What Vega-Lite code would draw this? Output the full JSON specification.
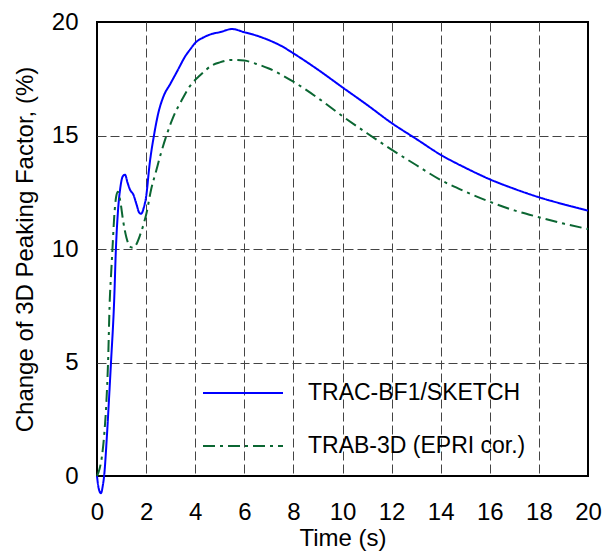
{
  "$schema": "https://vega.github.io/schema/vega-lite/v6.json",
  "width": 491,
  "height": 454,
  "autosize": {"type": "none"},
  "padding": {"left": 97, "top": 22, "right": 17, "bottom": 76},
  "background": "white",
  "config": {
    "view": {"stroke": "black", "strokeWidth": 2},
    "font": "Liberation Sans",
    "axis": {
      "labelFont": "Liberation Sans",
      "titleFont": "Liberation Sans",
      "labelFontSize": 24,
      "titleFontSize": 24,
      "labelColor": "black",
      "titleColor": "black",
      "titleFontWeight": "normal",
      "domain": false,
      "ticks": false,
      "labelFlush": false,
      "gridColor": "#444",
      "gridDash": [9, 4],
      "gridWidth": 1
    },
    "legend": {
      "labelFont": "Liberation Sans",
      "labelFontSize": 23,
      "labelColor": "black",
      "labelLimit": 400
    }
  },
  "data": {
    "values": [
      {"t": 0, "v": 0, "s": "TRAC-BF1/SKETCH"},
      {"t": 0.06, "v": -0.5, "s": "TRAC-BF1/SKETCH"},
      {"t": 0.16, "v": -0.76, "s": "TRAC-BF1/SKETCH"},
      {"t": 0.24, "v": -0.4, "s": "TRAC-BF1/SKETCH"},
      {"t": 0.29, "v": 0, "s": "TRAC-BF1/SKETCH"},
      {"t": 0.4, "v": 1.7, "s": "TRAC-BF1/SKETCH"},
      {"t": 0.5, "v": 3.6, "s": "TRAC-BF1/SKETCH"},
      {"t": 0.57, "v": 5.0, "s": "TRAC-BF1/SKETCH"},
      {"t": 0.7, "v": 7.75, "s": "TRAC-BF1/SKETCH"},
      {"t": 0.77, "v": 10.0, "s": "TRAC-BF1/SKETCH"},
      {"t": 0.85, "v": 11.6, "s": "TRAC-BF1/SKETCH"},
      {"t": 0.95, "v": 12.7, "s": "TRAC-BF1/SKETCH"},
      {"t": 1.05, "v": 13.2, "s": "TRAC-BF1/SKETCH"},
      {"t": 1.14, "v": 13.27, "s": "TRAC-BF1/SKETCH"},
      {"t": 1.25, "v": 12.9, "s": "TRAC-BF1/SKETCH"},
      {"t": 1.35, "v": 12.6, "s": "TRAC-BF1/SKETCH"},
      {"t": 1.48, "v": 12.4, "s": "TRAC-BF1/SKETCH"},
      {"t": 1.6, "v": 12.0, "s": "TRAC-BF1/SKETCH"},
      {"t": 1.72, "v": 11.6, "s": "TRAC-BF1/SKETCH"},
      {"t": 1.8, "v": 11.55, "s": "TRAC-BF1/SKETCH"},
      {"t": 1.9, "v": 11.8, "s": "TRAC-BF1/SKETCH"},
      {"t": 2.0, "v": 12.3, "s": "TRAC-BF1/SKETCH"},
      {"t": 2.15, "v": 13.8, "s": "TRAC-BF1/SKETCH"},
      {"t": 2.32, "v": 15.0, "s": "TRAC-BF1/SKETCH"},
      {"t": 2.5, "v": 16.0, "s": "TRAC-BF1/SKETCH"},
      {"t": 2.7, "v": 16.7, "s": "TRAC-BF1/SKETCH"},
      {"t": 3.0, "v": 17.3, "s": "TRAC-BF1/SKETCH"},
      {"t": 3.3, "v": 17.9, "s": "TRAC-BF1/SKETCH"},
      {"t": 3.6, "v": 18.5, "s": "TRAC-BF1/SKETCH"},
      {"t": 3.8, "v": 18.8, "s": "TRAC-BF1/SKETCH"},
      {"t": 4.0, "v": 19.08, "s": "TRAC-BF1/SKETCH"},
      {"t": 4.3, "v": 19.3, "s": "TRAC-BF1/SKETCH"},
      {"t": 4.7, "v": 19.48, "s": "TRAC-BF1/SKETCH"},
      {"t": 5.0, "v": 19.55, "s": "TRAC-BF1/SKETCH"},
      {"t": 5.5, "v": 19.69, "s": "TRAC-BF1/SKETCH"},
      {"t": 6.0, "v": 19.55, "s": "TRAC-BF1/SKETCH"},
      {"t": 6.5, "v": 19.4, "s": "TRAC-BF1/SKETCH"},
      {"t": 7.0, "v": 19.2, "s": "TRAC-BF1/SKETCH"},
      {"t": 7.5, "v": 18.95, "s": "TRAC-BF1/SKETCH"},
      {"t": 8.0, "v": 18.62, "s": "TRAC-BF1/SKETCH"},
      {"t": 9.0, "v": 17.9, "s": "TRAC-BF1/SKETCH"},
      {"t": 10.0, "v": 17.12, "s": "TRAC-BF1/SKETCH"},
      {"t": 11.0, "v": 16.35, "s": "TRAC-BF1/SKETCH"},
      {"t": 12.0, "v": 15.55, "s": "TRAC-BF1/SKETCH"},
      {"t": 13.0, "v": 14.85, "s": "TRAC-BF1/SKETCH"},
      {"t": 14.0, "v": 14.15, "s": "TRAC-BF1/SKETCH"},
      {"t": 15.0, "v": 13.58, "s": "TRAC-BF1/SKETCH"},
      {"t": 16.0, "v": 13.07, "s": "TRAC-BF1/SKETCH"},
      {"t": 17.0, "v": 12.65, "s": "TRAC-BF1/SKETCH"},
      {"t": 18.0, "v": 12.28, "s": "TRAC-BF1/SKETCH"},
      {"t": 19.0, "v": 11.97, "s": "TRAC-BF1/SKETCH"},
      {"t": 20.0, "v": 11.69, "s": "TRAC-BF1/SKETCH"},
      {"t": 0, "v": 0, "s": "TRAB-3D (EPRI cor.)"},
      {"t": 0.1, "v": 0.3, "s": "TRAB-3D (EPRI cor.)"},
      {"t": 0.2, "v": 0.85, "s": "TRAB-3D (EPRI cor.)"},
      {"t": 0.3, "v": 1.9, "s": "TRAB-3D (EPRI cor.)"},
      {"t": 0.38, "v": 3.2, "s": "TRAB-3D (EPRI cor.)"},
      {"t": 0.45, "v": 5.0, "s": "TRAB-3D (EPRI cor.)"},
      {"t": 0.52, "v": 7.75, "s": "TRAB-3D (EPRI cor.)"},
      {"t": 0.58, "v": 9.0, "s": "TRAB-3D (EPRI cor.)"},
      {"t": 0.63, "v": 10.0, "s": "TRAB-3D (EPRI cor.)"},
      {"t": 0.7, "v": 11.4, "s": "TRAB-3D (EPRI cor.)"},
      {"t": 0.78, "v": 12.3, "s": "TRAB-3D (EPRI cor.)"},
      {"t": 0.85, "v": 12.52, "s": "TRAB-3D (EPRI cor.)"},
      {"t": 0.95, "v": 12.1, "s": "TRAB-3D (EPRI cor.)"},
      {"t": 1.07, "v": 11.2, "s": "TRAB-3D (EPRI cor.)"},
      {"t": 1.2, "v": 10.5, "s": "TRAB-3D (EPRI cor.)"},
      {"t": 1.35, "v": 10.1, "s": "TRAB-3D (EPRI cor.)"},
      {"t": 1.48, "v": 10.05, "s": "TRAB-3D (EPRI cor.)"},
      {"t": 1.6, "v": 10.2, "s": "TRAB-3D (EPRI cor.)"},
      {"t": 1.75, "v": 10.6, "s": "TRAB-3D (EPRI cor.)"},
      {"t": 1.9, "v": 11.1, "s": "TRAB-3D (EPRI cor.)"},
      {"t": 2.02, "v": 11.6, "s": "TRAB-3D (EPRI cor.)"},
      {"t": 2.2, "v": 12.6, "s": "TRAB-3D (EPRI cor.)"},
      {"t": 2.4, "v": 13.4, "s": "TRAB-3D (EPRI cor.)"},
      {"t": 2.6, "v": 14.2, "s": "TRAB-3D (EPRI cor.)"},
      {"t": 2.83, "v": 15.0, "s": "TRAB-3D (EPRI cor.)"},
      {"t": 3.1, "v": 15.8, "s": "TRAB-3D (EPRI cor.)"},
      {"t": 3.45, "v": 16.55, "s": "TRAB-3D (EPRI cor.)"},
      {"t": 3.8, "v": 17.2, "s": "TRAB-3D (EPRI cor.)"},
      {"t": 4.2, "v": 17.65, "s": "TRAB-3D (EPRI cor.)"},
      {"t": 4.7, "v": 18.1, "s": "TRAB-3D (EPRI cor.)"},
      {"t": 5.0, "v": 18.22, "s": "TRAB-3D (EPRI cor.)"},
      {"t": 5.5, "v": 18.33, "s": "TRAB-3D (EPRI cor.)"},
      {"t": 6.0, "v": 18.3, "s": "TRAB-3D (EPRI cor.)"},
      {"t": 6.5, "v": 18.15, "s": "TRAB-3D (EPRI cor.)"},
      {"t": 7.0, "v": 17.95, "s": "TRAB-3D (EPRI cor.)"},
      {"t": 8.0, "v": 17.37, "s": "TRAB-3D (EPRI cor.)"},
      {"t": 9.0, "v": 16.65, "s": "TRAB-3D (EPRI cor.)"},
      {"t": 10.0, "v": 15.85, "s": "TRAB-3D (EPRI cor.)"},
      {"t": 11.0, "v": 15.1, "s": "TRAB-3D (EPRI cor.)"},
      {"t": 12.0, "v": 14.38, "s": "TRAB-3D (EPRI cor.)"},
      {"t": 13.0, "v": 13.7, "s": "TRAB-3D (EPRI cor.)"},
      {"t": 14.0, "v": 13.04, "s": "TRAB-3D (EPRI cor.)"},
      {"t": 15.0, "v": 12.53, "s": "TRAB-3D (EPRI cor.)"},
      {"t": 16.0, "v": 12.08, "s": "TRAB-3D (EPRI cor.)"},
      {"t": 17.0, "v": 11.7, "s": "TRAB-3D (EPRI cor.)"},
      {"t": 18.0, "v": 11.4, "s": "TRAB-3D (EPRI cor.)"},
      {"t": 19.0, "v": 11.12, "s": "TRAB-3D (EPRI cor.)"},
      {"t": 20.0, "v": 10.88, "s": "TRAB-3D (EPRI cor.)"}
    ]
  },
  "mark": {"type": "line", "interpolate": "monotone", "strokeWidth": 2, "clip": false},
  "encoding": {
    "x": {
      "field": "t", "type": "quantitative",
      "scale": {"domain": [0, 20], "nice": false, "zero": false},
      "axis": {
        "title": "Time (s)",
        "values": [0, 2, 4, 6, 8, 10, 12, 14, 16, 18, 20],
        "labelPadding": 24,
        "titlePadding": 2,
        "labelOverlap": false,
        "labelFlush": false,
        "gridOpacity": {"condition": {"test": "datum.value == 0 || datum.value == 20", "value": 0}, "value": 1}
      }
    },
    "y": {
      "field": "v", "type": "quantitative",
      "scale": {"domain": [0, 20], "nice": false, "zero": false},
      "axis": {
        "title": "Change of 3D Peaking Factor, (%)",
        "values": [0, 5, 10, 15, 20],
        "labelPadding": 19,
        "titlePadding": 14,
        "labelFlush": false,
        "gridOpacity": {"condition": {"test": "datum.value == 0 || datum.value == 20", "value": 0}, "value": 1}
      }
    },
    "color": {
      "field": "s", "type": "nominal",
      "scale": {"domain": ["TRAC-BF1/SKETCH", "TRAB-3D (EPRI cor.)"], "range": ["#0000ff", "#0b6632"]},
      "legend": {
        "title": null,
        "orient": "none",
        "legendX": 105,
        "legendY": 330,
        "symbolType": "stroke",
        "symbolSize": 6400,
        "symbolStrokeWidth": 2,
        "labelOffset": 24,
        "rowPadding": -16
      }
    },
    "strokeDash": {
      "field": "s", "type": "nominal",
      "scale": {"domain": ["TRAC-BF1/SKETCH", "TRAB-3D (EPRI cor.)"], "range": [[1, 0], [12, 5, 3, 5]]},
      "legend": {
        "title": null,
        "orient": "none",
        "legendX": 105,
        "legendY": 330,
        "symbolType": "stroke",
        "symbolSize": 6400,
        "symbolStrokeWidth": 2,
        "labelOffset": 24,
        "rowPadding": -16
      }
    }
  }
}
